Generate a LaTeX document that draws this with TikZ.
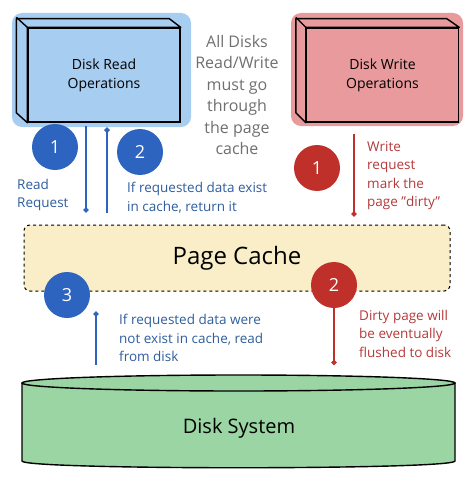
\documentclass[tikz,border=0pt]{standalone}
\usepackage{fontspec}
\setmainfont{Open Sans}
\usetikzlibrary{arrows.meta}
\definecolor{readblue}{HTML}{A7CDF1}
\definecolor{writered}{HTML}{E99A9C}
\definecolor{cacheyellow}{HTML}{F9EEC8}
\definecolor{diskgreen}{HTML}{9AD5A3}
\definecolor{circblue}{HTML}{2C64C0}
\definecolor{circred}{HTML}{C0302B}
\definecolor{txtblue}{HTML}{2E5D9E}
\definecolor{txtred}{HTML}{B33A3A}
\definecolor{txtgray}{HTML}{6F6F6F}
\begin{document}
\begin{tikzpicture}[x=1pt,y=-1pt,
    boxface/.style={draw,line width=1.4pt,minimum width=152pt,minimum height=94pt,align=center,font=\fontsize{14}{19}\selectfont},
    sideface/.style={draw,line width=1.4pt,line join=round},
    numblue/.style={circle,fill=circblue,text=white,minimum size=46pt,inner sep=0pt,font=\fontsize{18}{18}\selectfont},
    numred/.style={numblue,fill=circred},
    bluearrow/.style={draw=circblue,line width=2.2pt,-{Circle[length=5pt]}},
    redarrow/.style={bluearrow,draw=circred},
    note/.style={anchor=north west,inner sep=0pt,align=left,font=\fontsize{13.5}{18.5}\selectfont}]
\useasboundingbox (0,0) rectangle (472,484);

% blobs behind the boxes
\fill[readblue,rounded corners=10pt] (12,13) rectangle (191,127);
\fill[writered,rounded corners=10pt] (291,13) rectangle (463,126);

% read and write boxes
\node[boxface,fill=readblue] (read) at (104,75) {Disk Read\\Operations};
\filldraw[sideface,fill=readblue] (read.south west) -- ++(-11,-10) -- ++(0,-94) -- ++(153,0)
    -- (read.north east) -- (read.north west) -- cycle;
\draw[sideface] (read.north west) -- ++(-11,-10);
\node[boxface,fill=writered] (write) at (382.5,75) {Disk Write\\Operations};
\filldraw[sideface,fill=writered] (write.south west) -- ++(-10,-10) -- ++(0,-94) -- ++(151,0)
    -- (write.north east) -- (write.north west) -- cycle;
\draw[sideface] (write.north west) -- ++(-10,-10);

\node[anchor=north,inner sep=0pt,align=center,text=txtgray,font=\fontsize{16}{21.5}\selectfont] (rule) at (237,35)
    {All Disks\\Read/Write\\must go\\through\\the page\\cache};

% page cache
\node[draw,dashed,line width=1pt,rounded corners=6pt,fill=cacheyellow,minimum width=426pt,minimum height=66pt,
    font=\fontsize{24}{24}\selectfont] (cache) at (237,258) {Page Cache};

% disk
\filldraw[fill=diskgreen,line width=1.4pt] (22,383) -- (22,461) .. controls (22,470) and (455,470) .. (455,461) -- (455,383);
\filldraw[fill=diskgreen,line width=1.4pt] (238.5,383) ellipse [x radius=216.5, y radius=8];
\coordinate (disktop) at (238.5,375);
\node[font=\fontsize{20}{20}\selectfont] (disk) at (239,428) {Disk System};

% steps
\node[numblue] (b1) at (55,147) {1};
\node[numblue] (b2) at (140,152) {2};
\node[numred] (r1) at (317,168) {1};
\node[numblue] (b3) at (67,295) {3};
\node[numred] (r2) at (334,285) {2};

\coordinate (x1) at (86,0);
\coordinate (x2) at (107,0);
\coordinate (x3) at (354,0);
\coordinate (x4) at (96,0);
\draw[bluearrow,shorten <=3pt,shorten >=12pt] (read.south -| x1) -- (cache.north -| x1);
\draw[bluearrow,shorten <=12pt,shorten >=5pt] (cache.north -| x2) -- (read.south -| x2);
\draw[redarrow,shorten <=11pt,shorten >=8pt] (write.south -| x3) -- (cache.north -| x3);
\draw[bluearrow,shorten <=10pt,shorten >=20pt] (disktop -| x4) -- (cache.south -| x4);
\draw[redarrow,shorten >=10pt] (r2.south) -- (disktop -| r2);

\node[note,text=txtblue] (n1) at (17,179) {Read\\Request};
\node[note,text=txtblue] (n2) at (127,182) {If requested data exist\\in cache, return it};
\node[note,text=txtred] (n3) at (367,141) {Write\\request\\mark the\\page "dirty"};
\node[note,text=txtblue] (n4) at (119,314) {If requested data were\\not exist in cache, read\\from disk};
\node[note,text=txtred] (n5) at (359,310) {Dirty page will\\be eventually\\flushed to disk};
\end{tikzpicture}
\end{document}
